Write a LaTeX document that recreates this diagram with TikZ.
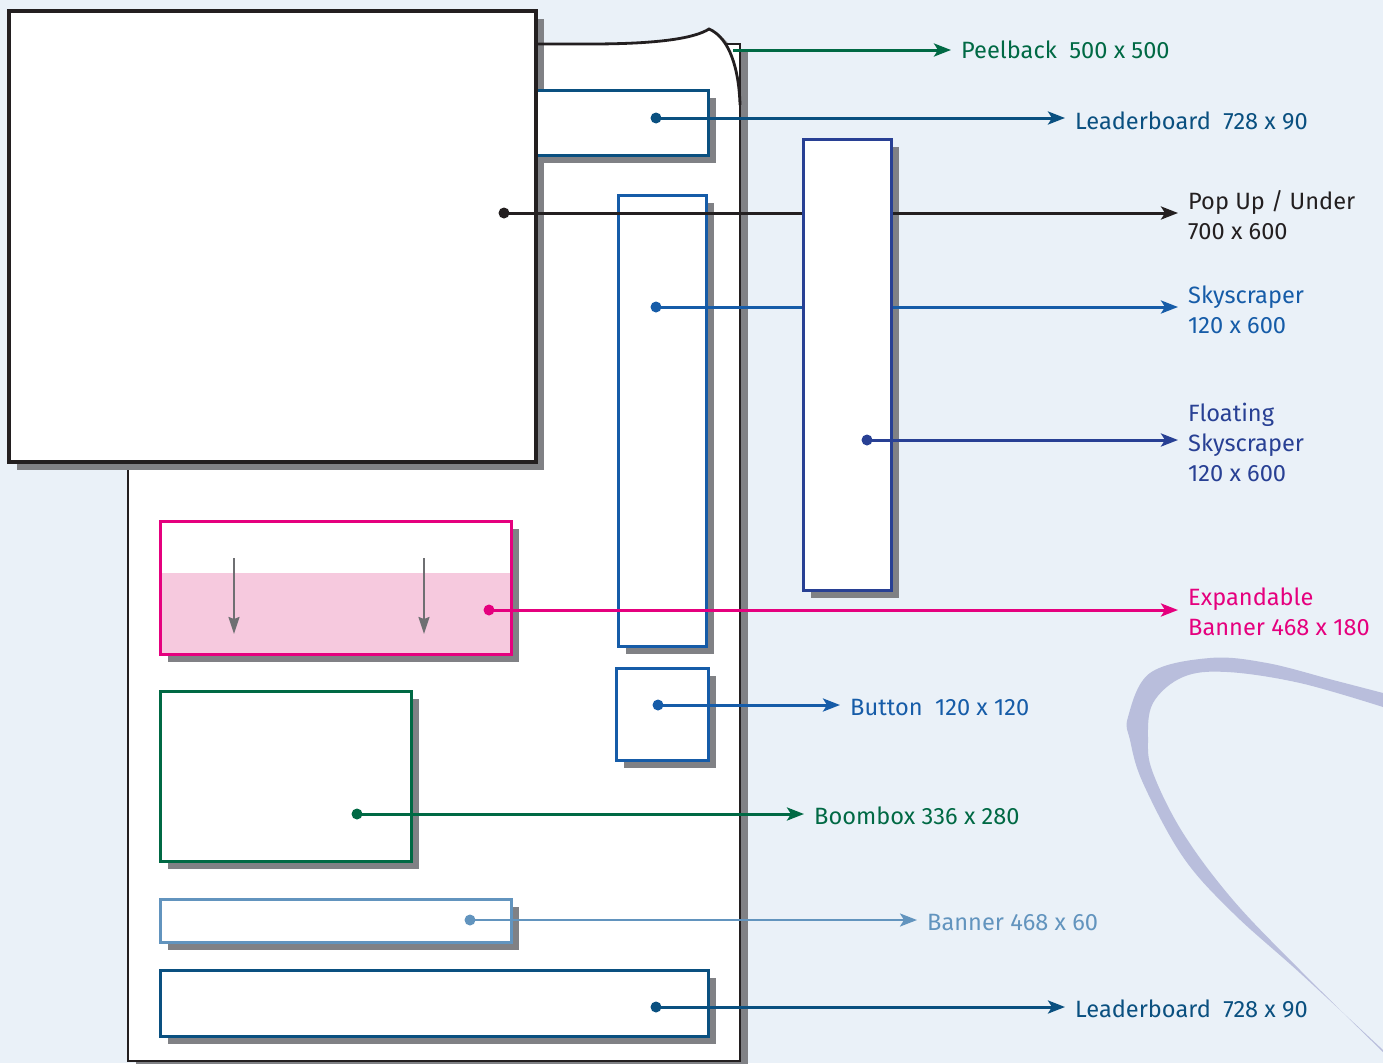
\documentclass[tikz,border=0pt]{standalone}
\usepackage{fontspec}
\setmainfont{Fira Sans}
\usetikzlibrary{arrows.meta,shadows}
\definecolor{bg}{RGB}{234,241,248}
\definecolor{swooshc}{RGB}{185,190,220}
\definecolor{ink}{RGB}{35,31,32}
\definecolor{shadowgray}{RGB}{128,129,133}
\definecolor{lbblue}{RGB}{10,80,128}
\definecolor{skyblue}{RGB}{22,92,168}
\definecolor{floatblue}{RGB}{40,64,148}
\definecolor{admagenta}{RGB}{229,0,126}
\definecolor{pinkfill}{RGB}{246,201,222}
\definecolor{adgreen}{RGB}{0,105,68}
\definecolor{bannerblue}{RGB}{98,148,190}
\definecolor{arrowgray}{RGB}{110,111,114}
\begin{document}
\begin{tikzpicture}[x=1pt,y=-1pt,
  box/.style={draw=#1, fill=white, line width=3pt, inner sep=0pt, outer sep=0pt, anchor=north west},
  shade/.style={drop shadow={shadow xshift=8pt, shadow yshift=-8pt, fill=shadowgray, opacity=1}},
  dot/.style={circle, fill=#1, inner sep=0pt, minimum size=11pt},
  conn/.style={draw=#1, line width=3pt, -{Stealth[length=17pt,width=13pt,inset=4pt]}, shorten >=10pt},
  lbl/.style={text=#1, anchor=west, inner sep=0pt, align=left, font=\fontsize{23.6}{30}\selectfont},
]
\useasboundingbox (0,0) rectangle (1383,1063);
\fill[bg] (0,0) rectangle (1383,1063);
% swoosh
\fill[swooshc] plot[smooth, tension=0.6] coordinates {(1383,693) (1333,680) (1267,663) (1210,658) (1150,673) (1128,717) (1130,740) (1143,783) (1183,857) (1233,913) (1300,973) (1383,1050)}
  -- plot[smooth, tension=0.6] coordinates {(1383,1052) (1300,970) (1233,900) (1183,833) (1153,773) (1148,740) (1153,703) (1183,677) (1227,672) (1300,683) (1383,707)} -- cycle;
% peel shadow
\fill[shadowgray!70] (596,48) .. controls (666,48) and (701,42) .. (715,33) .. controls (736,42) and (745,74) .. (746,109) -- cycle;
% page
\node[box=ink, shade, line width=2.8pt, minimum width=612pt, minimum height=1017pt] (page) at (128,44) {};
% popup shadow
\fill[shadowgray] (17,19) rectangle (544,470);
% peel
\fill[white] (590,44) .. controls (660,44) and (695,38) .. (709,29) .. controls (730,38) and (739,70) .. (740,105) -- cycle;
\draw[ink, line width=2.8pt] (536,44) -- (590,44) .. controls (660,44) and (695,38) .. (709,29) .. controls (730,38) and (739,70) .. (740,105);
% boxes
\node[box=lbblue, shade, minimum width=208pt, minimum height=65pt] (lb1) at (500,90) {};
\node[box=ink, line width=3.2pt, minimum width=527pt, minimum height=451pt] (popup) at (9,11) {};
\node[box=skyblue, shade, minimum width=88pt, minimum height=451pt] (sky) at (618,195) {};
\node[box=admagenta, shade, minimum width=351pt, minimum height=133pt] (exp) at (160,521) {};
\fill[pinkfill] (exp.south west) rectangle (exp.east |- 0,573);
\draw[admagenta, line width=3pt] (exp.south west) rectangle (exp.north east);
\coordinate (ea1) at (234,558); \coordinate (eb1) at (234,634);
\coordinate (ea2) at (424,558); \coordinate (eb2) at (424,634);
\draw[arrowgray, line width=2pt, -{Stealth[length=17pt,width=11pt,inset=2pt]}] (ea1) -- (eb1);
\draw[arrowgray, line width=2pt, -{Stealth[length=17pt,width=11pt,inset=2pt]}] (ea2) -- (eb2);
\node[box=skyblue, shade, minimum width=92pt, minimum height=92pt] (btn) at (616,668) {};
\node[box=adgreen, shade, minimum width=251pt, minimum height=170pt] (bbx) at (160,691) {};
\node[box=bannerblue, shade, minimum width=351pt, minimum height=43pt] (ban) at (160,899) {};
\node[box=lbblue, shade, minimum width=548pt, minimum height=66pt] (lb2) at (160,970) {};
% floating skyscraper shadow (under the connectors)
\fill[shadowgray] (811,147) rectangle (899,598);
% labels
\node[lbl=adgreen] (lpeel) at (961,50) {Peelback\ \ 500 x 500};
\node[lbl=lbblue] (llb1) at (1075,121) {Leaderboard\ \ 728 x 90};
\node[lbl=ink] (lpop) at (1188,215) {Pop Up / Under\\700 x 600};
\node[lbl=skyblue] (lsky) at (1188,310) {Skyscraper\\120 x 600};
\node[lbl=floatblue] (lflt) at (1188,442) {Floating\\Skyscraper\\120 x 600};
\node[lbl=admagenta] (lexp) at (1188,612) {Expandable\\Banner 468 x 180};
\node[lbl=skyblue] (lbtn) at (850,707) {Button\ \ 120 x 120};
\node[lbl=adgreen] (lbbx) at (814,816) {Boombox 336 x 280};
\node[lbl=bannerblue] (lban) at (927,922) {Banner 468 x 60};
\node[lbl=lbblue] (llb2) at (1075,1009) {Leaderboard\ \ 728 x 90};
% dots
\coordinate (dpeel) at (733,50);
\node[dot=lbblue] (dlb1) at (656,118) {};
\node[dot=ink] (dpop) at (504,213) {};
\node[dot=skyblue] (dsky) at (656,307) {};
\node[dot=admagenta] (dexp) at (489,610) {};
\node[dot=skyblue] (dbtn) at (658,705) {};
\node[dot=adgreen] (dbbx) at (357,814) {};
\node[dot=bannerblue] (dban) at (470,920) {};
\node[dot=lbblue] (dlb2) at (656,1007) {};
% connectors
\draw[conn=adgreen] (dpeel) -- (dpeel -| lpeel.west);
\draw[conn=lbblue] (dlb1.center) -- (dlb1 -| llb1.west);
\draw[conn=ink] (dpop.center) -- (dpop -| lpop.west);
\draw[conn=skyblue] (dsky.center) -- (dsky -| lsky.west);
\draw[conn=admagenta] (dexp.center) -- (dexp -| lexp.west);
\draw[conn=skyblue] (dbtn.center) -- (dbtn -| lbtn.west);
\draw[conn=adgreen] (dbbx.center) -- (dbbx -| lbbx.west);
\draw[conn=bannerblue, line width=2.4pt] (dban.center) -- (dban -| lban.west);
\draw[conn=lbblue] (dlb2.center) -- (dlb2 -| llb2.west);
% floating skyscraper on top
\node[box=floatblue, minimum width=88pt, minimum height=451pt] (flt) at (803,139) {};
\node[dot=floatblue] (dflt) at (867,440) {};
\draw[conn=floatblue] (dflt.center) -- (dflt -| lflt.west);
\end{tikzpicture}
\end{document}
